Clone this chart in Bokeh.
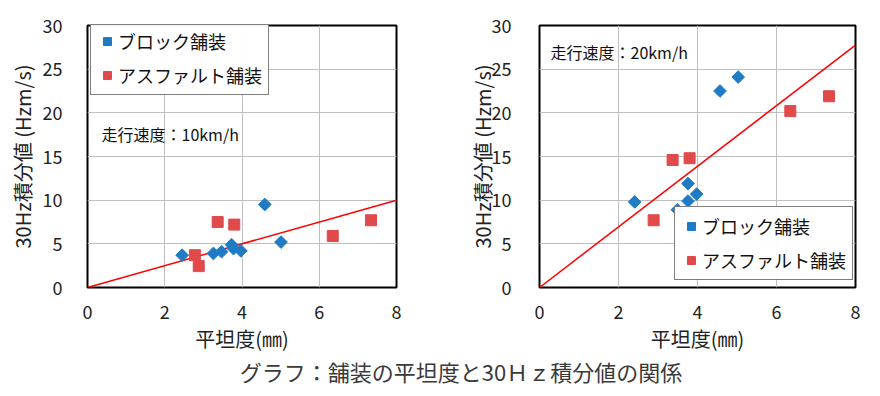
import math
from bokeh.plotting import figure
from bokeh.models import Legend, LegendItem, Label, Div, FixedTicker, Range1d
from bokeh.layouts import row, column
from bokeh.embed import file_html
from bokeh.resources import INLINE

# ---- data ----
block_x_10 = [2.45, 3.26, 3.47, 3.73, 3.78, 3.97, 4.59, 5.01]
block_y_10 = [3.7, 3.9, 4.1, 4.9, 4.45, 4.2, 9.5, 5.2]
asph_x_10 = [2.78, 2.88, 3.37, 3.80, 6.35, 7.34]
asph_y_10 = [3.7, 2.45, 7.5, 7.2, 5.9, 7.7]

block_x_20 = [2.41, 3.49, 3.76, 3.98, 3.76, 4.57, 5.03]
block_y_20 = [9.8, 8.9, 9.9, 10.7, 11.9, 22.5, 24.1]
asph_x_20 = [2.89, 3.37, 3.80, 6.35, 7.33]
asph_y_20 = [7.7, 14.6, 14.8, 20.2, 21.9]

slopes = [1.25, 3.47]
speeds = ["走行速度：10km/h", "走行速度：20km/h"]
x_ticks = [0, 2, 4, 6, 8]
y_ticks = [0, 5, 10, 15, 20, 25, 30]
series_names = ["ブロック舗装", "アスファルト舗装"]
x_label = "平坦度(㎜)"
y_label = "30Hz積分値 (Hzm/s)"
caption = "グラフ：舗装の平坦度と30Ｈｚ積分値の関係"

BLUE = "#1E7BC4"
RED = "#E04A4A"
FONT = "Noto Sans CJK JP"


def make_plot(bx, by, ax, ay, slope, speed, width, border_left, border_right, legend_loc,
              label_xy, ytick_standoff, ylabel_standoff):
    p = figure(width=width, height=355, output_backend="svg", toolbar_location=None,
               x_range=Range1d(0, 8), y_range=Range1d(0, 30),
               min_border_left=border_left, min_border_right=border_right,
               min_border_top=25, min_border_bottom=67)
    p.outline_line_color = "black"
    p.outline_line_width = 2
    p.background_fill_color = "white"
    p.border_fill_color = "white"
    for g in (p.xgrid, p.ygrid):
        g.grid_line_color = "#BFBFBF"
        g.grid_line_width = 1
    p.xaxis.ticker = FixedTicker(ticks=x_ticks)
    p.yaxis.ticker = FixedTicker(ticks=y_ticks)
    for ax_ in (p.xaxis, p.yaxis):
        ax_.axis_line_color = None
        ax_.major_tick_in = 0
        ax_.major_tick_out = 0
        ax_.minor_tick_line_color = None
        ax_.major_label_text_font = FONT
        ax_.major_label_text_font_size = "18px"
        ax_.major_label_text_color = "#222222"
        ax_.axis_label_text_font = FONT
        ax_.axis_label_text_font_size = "20px"
        ax_.axis_label_text_font_style = "normal"
        ax_.axis_label_text_color = "#222222"
    p.xaxis.axis_label = x_label
    p.yaxis.axis_label = y_label
    p.xaxis.major_label_standoff = 17
    p.xaxis.axis_label_standoff = 2
    p.yaxis.major_label_standoff = ytick_standoff
    p.yaxis.axis_label_standoff = ylabel_standoff

    xs = [0, 8]
    p.line(xs, [slope * x for x in xs], line_color="red", line_width=1.5)
    r1 = p.scatter(bx, by, marker="square", angle=math.pi / 4, size=9,
                   fill_color=BLUE, line_color=BLUE)
    r2 = p.scatter(ax, ay, marker="square", size=11, fill_color=RED, line_color=RED)

    legend = Legend(items=[LegendItem(label=series_names[0], renderers=[r1]),
                           LegendItem(label=series_names[1], renderers=[r2])],
                    location=legend_loc)
    legend.label_text_font = FONT
    legend.label_text_font_size = "18px"
    legend.label_text_color = "#111111"
    legend.border_line_color = "black"
    legend.border_line_width = 1.5
    legend.padding = 6
    legend.spacing = 8
    legend.margin = 0
    legend.glyph_width = 20
    legend.glyph_height = 22
    legend.label_height = 22
    legend.label_standoff = 1
    p.add_layout(legend)

    p.add_layout(Label(x=label_xy[0], y=label_xy[1], x_units="screen", y_units="screen",
                       text=speed, text_font=FONT, text_font_size="16px",
                       text_color="#111111", text_baseline="middle"))
    return p


p1 = make_plot(block_x_10, block_y_10, asph_x_10, asph_y_10, slopes[0], speeds[0],
               437, 87, 41, (3, 192), (14, 154), 25, 3)
p2 = make_plot(block_x_20, block_y_20, asph_x_20, asph_y_20, slopes[1], speeds[1],
               432, 102, 14, (135, 7), (11, 236), 28, -8)

cap = Div(text=caption, width=864, height=30,
          styles={"font-family": FONT, "font-size": "22px", "color": "#3a3a3a",
                  "text-align": "center", "padding-left": "48px", "line-height": "22px",
                  "box-sizing": "border-box", "width": "864px"})

layout = column(row(p1, p2), cap)
open("out.html", "w").write(file_html(layout, INLINE))
